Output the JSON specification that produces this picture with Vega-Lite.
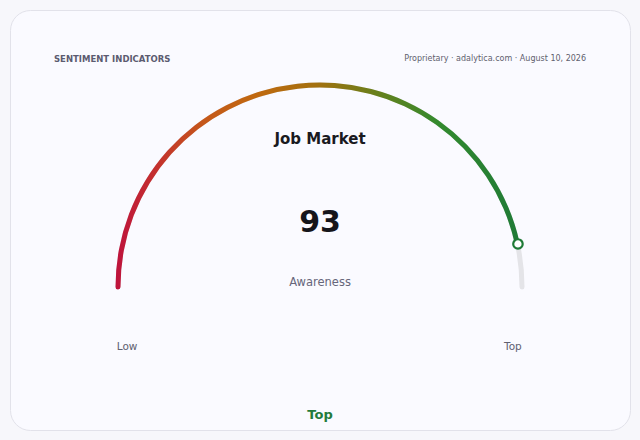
{
  "$schema": "https://vega.github.io/schema/vega-lite/v6.json",
  "description": "Sentiment gauge: Job Market awareness",
  "width": 640,
  "height": 440,
  "autosize": {"type": "fit", "contains": "padding"},
  "padding": 10,
  "background": "#f7f7fb",
  "config": {
    "view": {"fill": "#fafaff", "stroke": "#e2e2ea", "strokeWidth": 1, "cornerRadius": 20},
    "text": {"font": "DejaVu Sans"}
  },
  "datasets": {
    "gauge": [{"metric": "Job Market", "label": "Awareness", "min": 0, "value": 93, "max": 100, "cx": 0, "cy": 0}],
    "marker": [{"mx": 0.98, "my": 0.213}],
    "header": [
      {"text": "SENTIMENT INDICATORS", "tx": -1.317, "ty": 1.129}
    ],
    "source": [
      {"text": "Proprietary · adalytica.com · August 10, 2026", "tx": 1.317, "ty": 1.129}
    ],
    "title": [{"text": "Job Market", "tx": 0, "ty": 0.733}],
    "big": [{"text": "93", "tx": 0, "ty": 0.317}],
    "sub": [{"text": "Awareness", "tx": 0, "ty": 0.021}],
    "ends": [
      {"text": "Low", "tx": -0.955, "ty": -0.297},
      {"text": "Top", "tx": 0.955, "ty": -0.297}
    ],
    "band": [{"text": "Top", "tx": 0, "ty": -0.634}]
  },
  "layer": [
    {
      "data": {"name": "gauge"},
      "mark": {"type": "arc", "outerRadius": 204.5, "innerRadius": 199.5, "cornerRadius": 2.5, "color": "#e4e4e8"},
      "encoding": {
        "x": {"field": "cx", "type": "quantitative", "scale": {"domain": [-1.5347, 1.5347], "nice": false, "zero": false}, "axis": null},
        "y": {"field": "cy", "type": "quantitative", "scale": {"domain": [-0.7079, 1.3713], "nice": false, "zero": false}, "axis": null},
        "theta": {"field": "min", "type": "quantitative", "stack": null, "scale": {"domain": [0, 100], "range": [-1.583, 1.583]}},
        "theta2": {"field": "max"}
      }
    },
    {
      "data": {"name": "gauge"},
      "mark": {
        "type": "arc",
        "outerRadius": 204.5,
        "innerRadius": 199.5,
        "cornerRadius": 2.5,
        "color": {
          "gradient": "linear",
          "x1": 0, "y1": 0, "x2": 1, "y2": 0,
          "stops": [
            {"offset": 0, "color": "#be123c"},
            {"offset": 0.1, "color": "#c4302e"},
            {"offset": 0.22, "color": "#c5581a"},
            {"offset": 0.35, "color": "#c0690f"},
            {"offset": 0.5, "color": "#a2700f"},
            {"offset": 0.65, "color": "#66801c"},
            {"offset": 0.8, "color": "#338a2e"},
            {"offset": 1, "color": "#1f7a36"}
          ]
        }
      },
      "encoding": {
        "x": {"field": "cx", "type": "quantitative", "axis": null},
        "y": {"field": "cy", "type": "quantitative", "axis": null},
        "theta": {"field": "min", "type": "quantitative", "stack": null},
        "theta2": {"field": "value"}
      }
    },
    {
      "data": {"name": "marker"},
      "mark": {"type": "point", "filled": true, "fill": "#ffffff", "stroke": "#1f7a36", "strokeWidth": 2.2, "size": 90, "opacity": 1},
      "encoding": {
        "x": {"field": "mx", "type": "quantitative", "axis": null},
        "y": {"field": "my", "type": "quantitative", "axis": null}
      }
    },
    {
      "data": {"name": "header"},
      "mark": {"type": "text", "align": "left", "baseline": "middle", "fontSize": 8.5, "fontWeight": "bold", "color": "#5b5b70"},
      "encoding": {
        "x": {"field": "tx", "type": "quantitative", "axis": null},
        "y": {"field": "ty", "type": "quantitative", "axis": null},
        "text": {"field": "text"}
      }
    },
    {
      "data": {"name": "source"},
      "mark": {"type": "text", "align": "right", "baseline": "middle", "fontSize": 8, "color": "#5f5f6e"},
      "encoding": {
        "x": {"field": "tx", "type": "quantitative", "axis": null},
        "y": {"field": "ty", "type": "quantitative", "axis": null},
        "text": {"field": "text"}
      }
    },
    {
      "data": {"name": "title"},
      "mark": {"type": "text", "align": "center", "baseline": "middle", "fontSize": 15, "fontWeight": "bold", "color": "#1a1a1f"},
      "encoding": {
        "x": {"field": "tx", "type": "quantitative", "axis": null},
        "y": {"field": "ty", "type": "quantitative", "axis": null},
        "text": {"field": "text"}
      }
    },
    {
      "data": {"name": "big"},
      "mark": {"type": "text", "align": "center", "baseline": "middle", "fontSize": 30, "fontWeight": "bold", "color": "#15151a"},
      "encoding": {
        "x": {"field": "tx", "type": "quantitative", "axis": null},
        "y": {"field": "ty", "type": "quantitative", "axis": null},
        "text": {"field": "text"}
      }
    },
    {
      "data": {"name": "sub"},
      "mark": {"type": "text", "align": "center", "baseline": "middle", "fontSize": 11.5, "color": "#66667a"},
      "encoding": {
        "x": {"field": "tx", "type": "quantitative", "axis": null},
        "y": {"field": "ty", "type": "quantitative", "axis": null},
        "text": {"field": "text"}
      }
    },
    {
      "data": {"name": "ends"},
      "mark": {"type": "text", "align": "center", "baseline": "middle", "fontSize": 10.5, "color": "#606070"},
      "encoding": {
        "x": {"field": "tx", "type": "quantitative", "axis": null},
        "y": {"field": "ty", "type": "quantitative", "axis": null},
        "text": {"field": "text"}
      }
    },
    {
      "data": {"name": "band"},
      "mark": {"type": "text", "align": "center", "baseline": "middle", "fontSize": 13, "fontWeight": "bold", "color": "#237a3b"},
      "encoding": {
        "x": {"field": "tx", "type": "quantitative", "axis": null},
        "y": {"field": "ty", "type": "quantitative", "axis": null},
        "text": {"field": "text"}
      }
    }
  ]
}
